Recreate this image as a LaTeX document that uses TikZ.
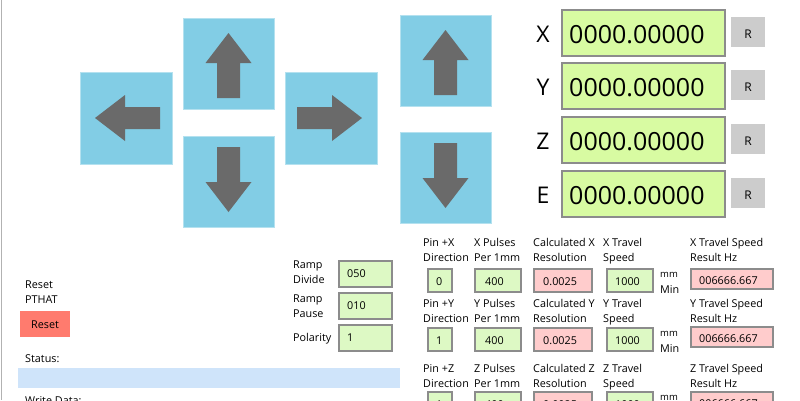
\documentclass[tikz,border=0pt]{standalone}
\usepackage{fontspec}
\setmainfont{Open Sans}
\begin{document}
\begin{tikzpicture}[x=1pt,y=-1pt,
 pad/.style={fill=padblue,draw=padblue!60!white,line width=1pt},
 arr/.style={fill=arrgray,draw=none},
 disp/.style={fill=dispgreen,draw=boxgray,line width=1.5pt},
 rbtn/.style={fill=btngray,draw=none},
 gbox/.style={fill=boxgreen,draw=boxgray,line width=1.5pt},
 pbox/.style={fill=boxpink,draw=boxgray,line width=1.5pt},
 lbl/.style={anchor=base west,inner sep=0pt,font=\fontsize{10.8}{12}\selectfont},
 val/.style={anchor=base west,inner sep=0pt,font=\fontsize{10.8}{12}\selectfont}]
\definecolor{padblue}{HTML}{82CDE5}
\definecolor{arrgray}{HTML}{6A6A6A}
\definecolor{dispgreen}{HTML}{D8FBA2}
\definecolor{boxgreen}{HTML}{DDF9C4}
\definecolor{boxpink}{HTML}{FFCCCC}
\definecolor{boxgray}{HTML}{8C8C8C}
\definecolor{btngray}{HTML}{CCCCCC}
\definecolor{statblue}{HTML}{CFE4FA}
\definecolor{resetred}{HTML}{FF7B6E}
\useasboundingbox (0,0) rectangle (800,400);
\fill[white] (0,0) rectangle (800,400);
\draw[gray!60,line width=1pt] (1,0) -- (1,400);
% pads
\def\up#1#2{\draw[pad] (#1,#2) rectangle ++(91,91);
 \fill[arr] (#1+45.5,#2+15) -- (#1+68.5,#2+45) -- (#1+57,#2+45) -- (#1+57,#2+80) -- (#1+34,#2+80) -- (#1+34,#2+45) -- (#1+22.5,#2+45) -- cycle;}
\def\dn#1#2{\draw[pad] (#1,#2) rectangle ++(91,91);
 \fill[arr] (#1+45.5,#2+76) -- (#1+68.5,#2+46) -- (#1+57,#2+46) -- (#1+57,#2+11) -- (#1+34,#2+11) -- (#1+34,#2+46) -- (#1+22.5,#2+46) -- cycle;}
\def\lf#1#2{\draw[pad] (#1,#2) rectangle ++(92,92);
 \fill[arr] (#1+15,#2+46) -- (#1+45,#2+23) -- (#1+45,#2+35) -- (#1+80,#2+35) -- (#1+80,#2+57) -- (#1+45,#2+57) -- (#1+45,#2+69) -- cycle;}
\def\rt#1#2{\draw[pad] (#1,#2) rectangle ++(92,92);
 \fill[arr] (#1+77,#2+46) -- (#1+47,#2+23) -- (#1+47,#2+35) -- (#1+12,#2+35) -- (#1+12,#2+57) -- (#1+47,#2+57) -- (#1+47,#2+69) -- cycle;}
\lf{80}{72} \up{183}{18} \dn{183}{136} \rt{285}{72}
\up{400}{15} \dn{400}{132}
% displays
\foreach \n/\y in {X/10,Y/63,Z/117,E/171}{
 \node[anchor=base,inner sep=0pt,font=\fontsize{23}{26}\selectfont] (l\n) at (543,\y+32) {\n};
 \draw[disp] (562,\y) rectangle (725,\y+46);
 \node[anchor=base west,inner sep=0pt,font=\fontsize{25}{28}\selectfont] (d\n) at (569,\y+33) {0000.00000};
 \fill[rbtn] (731,\y+7) rectangle (765,\y+37);
 \node[anchor=base,inner sep=0pt,font=\fontsize{12}{14}\selectfont] (r\n) at (748,\y+28) {R};
}
% left
\node[lbl] (rs) at (25,288) {Reset};
\node[lbl] (pt) at (25,303) {PTHAT};
\fill[resetred] (20,311) rectangle (70,337);
\node[anchor=base,inner sep=0pt,font=\fontsize{10.8}{12}\selectfont] (rb) at (45,328) {Reset};
\node[lbl] (st) at (25,362) {Status:};
\fill[statblue] (18,368) rectangle (400,388);
\node[lbl] (wd) at (25,404) {Write Data:};
% ramp
\node[lbl] at (293,268) {Ramp};
\node[lbl] at (293,283) {Divide};
\node[lbl] at (293,302) {Ramp};
\node[lbl] at (293,317) {Pause};
\node[lbl] at (293,341) {Polarity};
\foreach \y/\v in {261/050,293/010,325/1}{
 \draw[gbox] (339,\y) rectangle (392,\y+26);
 \node[val] at (347,\y+16) {\v};}
% grid
\foreach \a/\p/\ly/\by/\ry in {X/0/246/269/269,Y/1/307/328/327,Z/1/372/392/392}{
 \node[lbl] at (423,\ly) {Pin +\a};
 \node[lbl] at (423,\ly+15) {Direction};
 \node[lbl] at (474,\ly) {\a{} Pulses};
 \node[lbl] at (474,\ly+15) {Per 1mm};
 \node[lbl] at (533,\ly) {Calculated \a};
 \node[lbl] at (533,\ly+15) {Resolution};
 \node[lbl] at (603,\ly) {\a{} Travel};
 \node[lbl] at (603,\ly+15) {Speed};
 \node[lbl] at (690,\ly) {\a{} Travel Speed};
 \node[lbl] at (690,\ly+15) {Result Hz};
 \draw[gbox] (428,\by) rectangle (452,\by+23);
 \node[val] at (436,\by+16) {\p};
 \draw[gbox] (475,\by) rectangle (521,\by+23);
 \node[val] at (485,\by+16) {400};
 \draw[pbox] (534,\by) rectangle (592,\by+23);
 \node[val] at (543,\by+16) {0.0025};
 \draw[gbox] (607,\by) rectangle (653,\by+23);
 \node[val] at (615,\by+16) {1000};
 \node[anchor=base west,inner sep=0pt,font=\fontsize{9.5}{12}\selectfont] at (660,\by+8) {mm};
 \node[lbl] at (660,\by+24) {Min};
 \draw[pbox] (691,\ry) rectangle (773,\ry+20);
 \node[val] at (699,\ry+15) {006666.667};
}
\end{tikzpicture}
\end{document}
